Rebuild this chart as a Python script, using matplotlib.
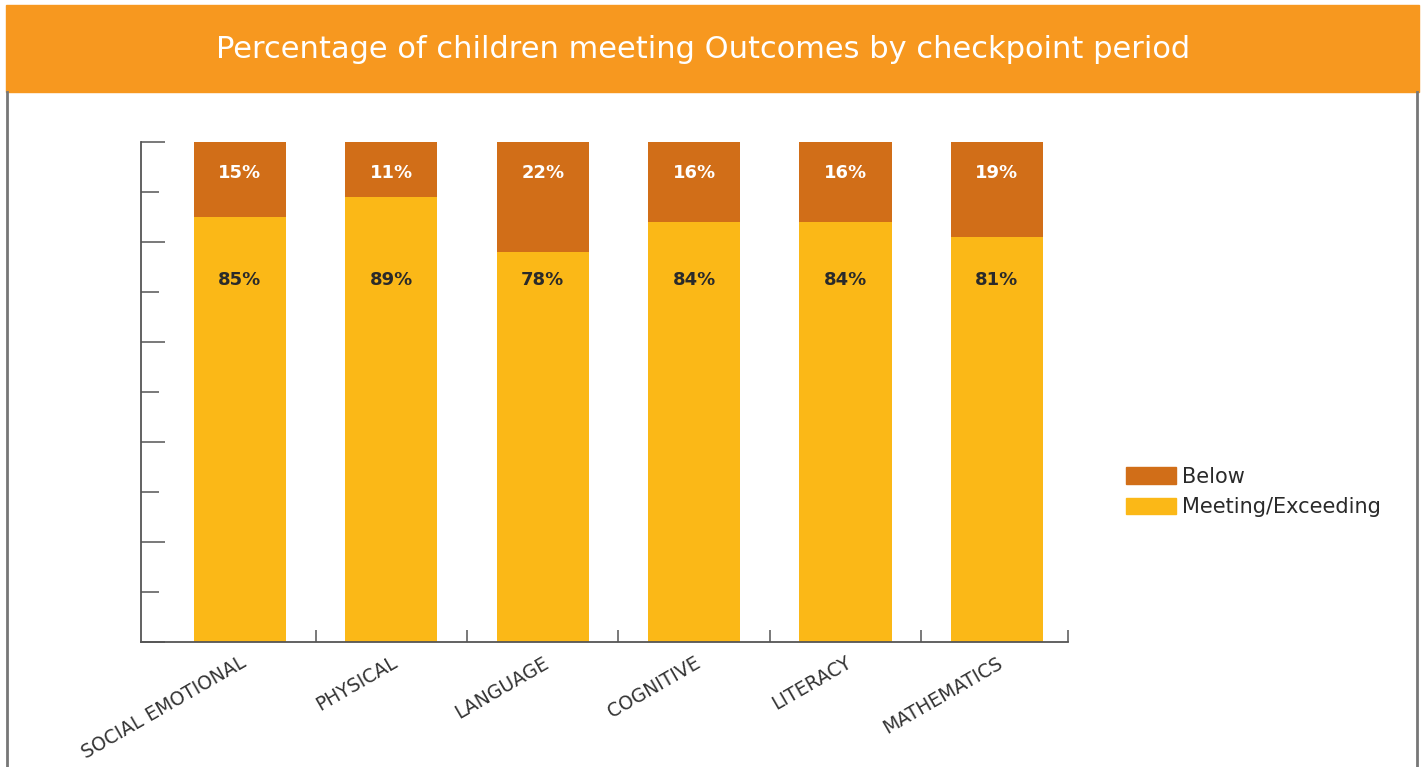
"""Stacked bars: share of children meeting outcomes, by learning domain."""

import matplotlib

matplotlib.use("Agg")
import matplotlib.pyplot as plt
from matplotlib.patches import Patch, Rectangle
from matplotlib.lines import Line2D

OUT = "out.png"

C_HEADER = "#F7981F"
C_BELOW = "#D16E18"
C_MEET = "#FBB817"
C_BORDER = "#777777"
C_TEXT = "#2A2A2A"

DOMAINS = ["SOCIAL EMOTIONAL", "PHYSICAL", "LANGUAGE", "COGNITIVE", "LITERACY", "MATHEMATICS"]
MEETING = [85, 89, 78, 84, 84, 81]
BELOW = [15, 11, 22, 16, 16, 19]


def main():
    plt.rcParams.update({"font.family": ["DejaVu Sans"]})
    fig = plt.figure(figsize=(14.26, 7.67), dpi=100)
    W, H = 1426, 767

    # header band + side borders (figure pixel coords -> fractions)
    fig.patches.append(Rectangle((6 / W, 1 - 92 / H), 1413 / W, 87 / H,
                                 transform=fig.transFigure, color=C_HEADER, zorder=0))
    for xp in (7, 1417):
        fig.add_artist(Line2D([xp / W, xp / W], [0, 1 - 92 / H], transform=fig.transFigure,
                              color=C_BORDER, lw=2))
    fig.text(703 / W, 1 - 49 / H, "Percentage of children meeting Outcomes by checkpoint period",
             ha="center", va="center", color="white", fontsize=22)

    ax = fig.add_axes([141 / W, 1 - 642 / H, 927 / W, 500 / H])
    x = list(range(len(DOMAINS)))
    bw = 0.608
    ax.bar(x, MEETING, width=bw, color=C_MEET, zorder=2)
    ax.bar(x, BELOW, bottom=MEETING, width=bw, color=C_BELOW, zorder=2)

    for xi, m, b in zip(x, MEETING, BELOW):
        ax.text(xi, 93.8, f"{b}%", ha="center", va="center", color="white",
                fontsize=13, fontweight="bold", zorder=3)
        ax.text(xi, 72.4, f"{m}%", ha="center", va="center", color=C_TEXT,
                fontsize=13, fontweight="bold", zorder=3)

    ax.set_xlim(-0.654, 5.47)
    ax.set_ylim(0, 100)
    for s in ("top", "right"):
        ax.spines[s].set_visible(False)
    for s in ("left", "bottom"):
        ax.spines[s].set_color("#555555")
        ax.spines[s].set_linewidth(1.3)

    ax.set_yticks(range(0, 101, 20))
    ax.set_yticks(range(10, 100, 20), minor=True)
    ax.tick_params(axis="y", which="major", direction="in", length=17, width=1.1,
                   color="#555555", labelleft=False)
    ax.tick_params(axis="y", which="minor", direction="in", length=13, width=1.1,
                   color="#555555")

    ax.set_xticks(x)
    ax.set_xticklabels(DOMAINS, rotation=30, ha="right", rotation_mode="anchor",
                       fontsize=13.5, color="#333333")
    ax.set_xticks([0.5, 1.5, 2.5, 3.5, 4.5, 5.47], minor=True)
    ax.tick_params(axis="x", which="major", length=0, pad=8)
    ax.tick_params(axis="x", which="minor", direction="in", length=8.5, width=1.1,
                   color="#555555")

    handles = [Patch(color=C_BELOW, label="Below"),
               Patch(color=C_MEET, label="Meeting/Exceeding")]
    fig.legend(handles=handles, loc="center left", bbox_to_anchor=(1118 / W, 1 - 492 / H),
               frameon=False, fontsize=15, handlelength=2.4, handleheight=0.85,
               handletextpad=0.25, labelspacing=0.5, labelcolor=C_TEXT, borderaxespad=0)

    fig.savefig(OUT, dpi=100)


if __name__ == "__main__":
    main()
